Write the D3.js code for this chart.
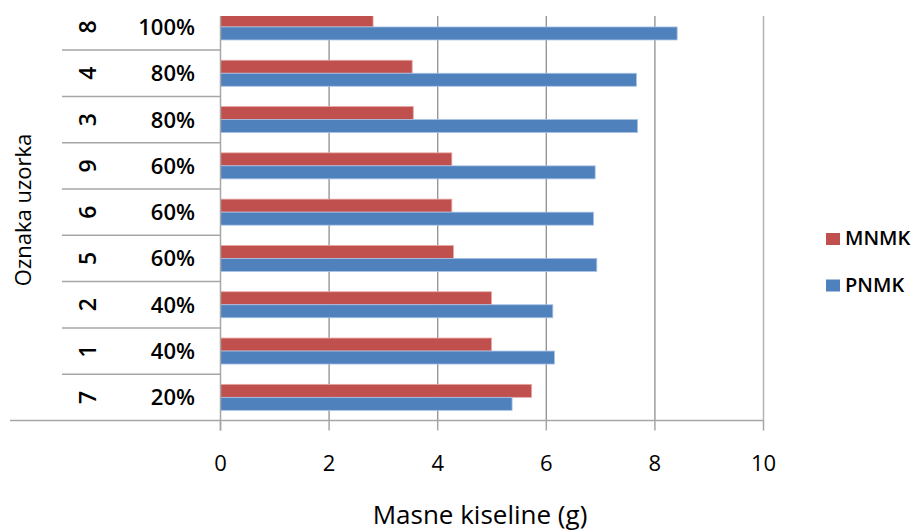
<!DOCTYPE html>
<html><head><meta charset="utf-8">
<script src="https://cdn.jsdelivr.net/npm/d3@7"></script>
<style>
html,body{margin:0;padding:0;background:#fff;}
svg{display:block;}
text{font-family:"Open Sans",sans-serif;fill:#000;}
</style></head>
<body>
<script>
// ---- data ----
const sampleIds = ["7","1","2","5","6","9","3","4","8"];
const percentLabels = ["20%","40%","40%","60%","60%","60%","80%","80%","100%"];
const mnmk = [5.73, 4.99, 4.99, 4.29, 4.26, 4.26, 3.55, 3.53, 2.81];
const pnmk = [5.37, 6.15, 6.12, 6.93, 6.87, 6.90, 7.68, 7.66, 8.41];
const seriesNames = ["MNMK","PNMK"];
const seriesColors = ["#C0504D","#4F81BD"];
const xTicks = [0,2,4,6,8,10];
const xTitle = "Masne kiseline (g)";
const yTitle = "Oznaka uzorka";

const W = 920, H = 532;
const svg = d3.select("body").append("svg").attr("width",W).attr("height",H);

const plotLeft = 220.5, plotRight = 763.5, plotTop = 16, plotBottom = 420.5;
const x = d3.scaleLinear().domain([0,10]).range([plotLeft, plotRight]);
const y = d3.scaleBand().domain(d3.range(sampleIds.length)).range([plotBottom, 3.8]).paddingInner(0);
const ys = d3.scaleBand().domain(seriesNames).range([0, y.bandwidth()]).paddingInner(0).paddingOuter(0.78);

// clip
svg.append("clipPath").attr("id","plotclip").append("rect")
  .attr("x", plotLeft).attr("y", plotTop).attr("width", plotRight-plotLeft+2).attr("height", plotBottom-plotTop);

// gridlines
svg.append("g").selectAll("line").data(xTicks.filter(d=>d>0)).join("line")
  .attr("x1",d=>x(d)).attr("x2",d=>x(d)).attr("y1",plotTop).attr("y2",plotBottom)
  .attr("stroke",d=> d===10 ? "#b0b0b0" : "#969696").attr("stroke-width",1.4);

// bars
const rows = sampleIds.map((s,i)=>({i, vals:[mnmk[i], pnmk[i]]}));
const barsG = svg.append("g").attr("clip-path","url(#plotclip)");
rows.forEach(r=>{
  seriesNames.forEach((sn,k)=>{
    barsG.append("rect")
      .attr("x", x(0)).attr("y", y(r.i)+ys(sn))
      .attr("width", x(r.vals[k]) - x(0)).attr("height", ys.bandwidth())
      .attr("fill", seriesColors[k])
      .attr("stroke", k===0 ? "#e8a8a6" : "#a9c3e6").attr("stroke-width",0.8);
  });
});

// axis lines
const axisColor = "#a6a6a6";
svg.append("line").attr("x1",10).attr("x2",plotRight).attr("y1",plotBottom).attr("y2",plotBottom)
  .attr("stroke",axisColor).attr("stroke-width",1.5);
svg.append("line").attr("x1",plotLeft).attr("x2",plotLeft).attr("y1",plotTop).attr("y2",plotBottom+10)
  .attr("stroke",axisColor).attr("stroke-width",1.5);
// x ticks
svg.append("g").selectAll("line").data(xTicks).join("line")
  .attr("x1",d=>x(d)).attr("x2",d=>x(d)).attr("y1",plotBottom).attr("y2",plotBottom+10)
  .attr("stroke",axisColor).attr("stroke-width",1.5);
svg.append("g").selectAll("text").data(xTicks).join("text")
  .attr("x",d=>x(d)).attr("y",471).attr("text-anchor","middle")
  .style("font-size","22px").text(d=>d);

// category separators
svg.append("g").selectAll("line").data(d3.range(1, sampleIds.length)).join("line")
  .attr("x1",62).attr("x2",plotLeft).attr("y1",d=>y(d)+y.bandwidth()).attr("y2",d=>y(d)+y.bandwidth())
  .attr("stroke",axisColor).attr("stroke-width",1.5);

// inner labels (percent)
svg.append("g").selectAll("text").data(rows).join("text")
  .attr("x",195).attr("y",d=>y(d.i)+y.bandwidth()/2+8).attr("text-anchor","end")
  .style("font-size","22px").style("font-weight","600").text(d=>percentLabels[d.i]);

// outer labels (sample ids), rotated
svg.append("g").selectAll("text").data(rows).join("text")
  .attr("transform",d=>`translate(95.5,${y(d.i)+y.bandwidth()/2}) rotate(-90)`)
  .attr("text-anchor","middle")
  .style("font-size","23px").style("font-weight","600").text(d=>sampleIds[d.i]);

// y title
svg.append("text").attr("transform","translate(31,210) rotate(-90)").attr("text-anchor","middle")
  .style("font-size","22px").text(yTitle);

// x title
svg.append("text").attr("x",480).attr("y",524).attr("text-anchor","middle")
  .style("font-size","26px").text(xTitle);

// legend
const legY = [233, 279.5];
seriesNames.forEach((sn,k)=>{
  svg.append("rect").attr("x",826).attr("y",legY[k]).attr("width",14).attr("height",12)
    .attr("fill",seriesColors[k]);
  svg.append("text").attr("x",845).attr("y",legY[k]+12).style("font-size","20px").style("font-weight","600")
    .text(sn);
});
</script>
</body></html>
